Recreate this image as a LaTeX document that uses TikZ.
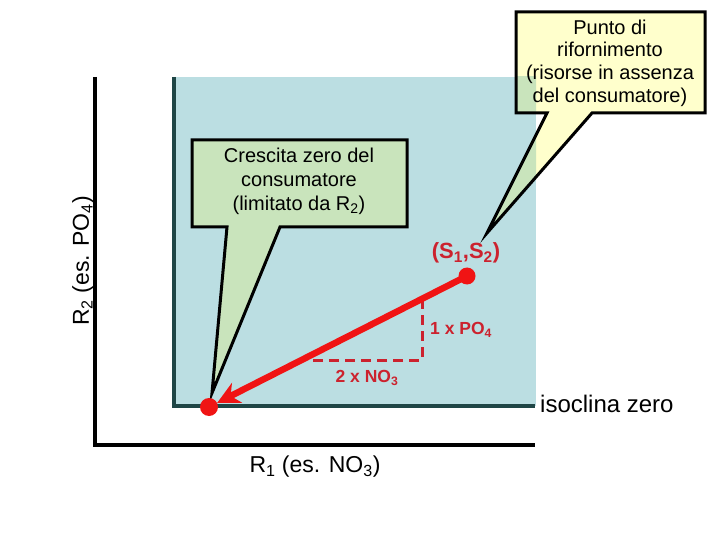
\documentclass[tikz,border=0pt]{standalone}
\usepackage{fontspec}
\setmainfont{Liberation Sans}
\usetikzlibrary{arrows.meta}
\definecolor{bgblue}{HTML}{BBDEE2}
\definecolor{isodark}{HTML}{1F4646}
\definecolor{callyel}{HTML}{FFFFCC}
\definecolor{callgrn}{HTML}{C9E4BC}
\definecolor{brightred}{HTML}{F01414}
\definecolor{labred}{HTML}{CC222E}
\tikzset{
  isoline/.style={isodark, line width=4bp, line cap=butt},
  axisline/.style={black, line width=4bp},
  callborder/.style={black, line width=3bp, line join=miter},
  greencall/.style={insert path={(192,140) -- (407,140) -- (407,227) -- (280,227) -- (212,393) -- (227,227) -- (192,227) -- cycle}},
  yellowcall/.style={insert path={(516,12) -- (705,12) -- (705,113) -- (592,113) -- (487,233) -- (547,113) -- (516,113) -- cycle}},
  calltext/.style={align=center, inner sep=0pt, font=\fontsize{20bp}{24bp}\selectfont},
  axislabel/.style={inner sep=0pt, font=\fontsize{23bp}{26bp}\selectfont},
  redlab/.style={inner sep=0pt, text=labred, font=\bfseries\fontsize{17.5bp}{20bp}\selectfont},
  reddot/.style={circle, fill=brightred, inner sep=0pt, minimum size=#1},
  dashline/.style={labred, line width=3bp, dash pattern=on 10bp off 6bp},
}
\begin{document}
\begin{tikzpicture}[x=1bp,y=-1bp]
\useasboundingbox (0,0) rectangle (720,540);
% blue region
\fill[bgblue] (174,77) rectangle (536,406);
% isocline
\coordinate (isoTop) at (174,77);
\coordinate (isoCorner) at (174,406);
\coordinate (isoEnd) at (535,406);
\draw[isoline] (isoTop) -- (isoCorner) -- (isoEnd);
% axes
\coordinate (axTop) at (95,77);
\coordinate (axOrigin) at (95,445);
\coordinate (axRight) at (535,445);
\draw[axisline] (axTop) -- (axOrigin) -- (axRight);
% callouts
\fill[callyel, greencall];
\fill[callyel, yellowcall];
\begin{scope}
  \clip (174,77) rectangle (536,406);
  \fill[callgrn, greencall];
  \fill[callgrn, yellowcall];
\end{scope}
\draw[callborder, greencall];
\draw[callborder, yellowcall];
\node[calltext] (gtext) at (299,181) {Crescita zero del\\consumatore\\(limitato da R\textsubscript{2})};
\node[calltext, font=\fontsize{20bp}{22.7bp}\selectfont] (ytext) at (610,63) {Punto di\\rifornimento\\(risorse in assenza\\del consumatore)};
% axis labels
\node[axislabel] (r1) at (315,467) {R\textsubscript{1} (es. NO\textsubscript{3})};
\node[axislabel, rotate=90] (r2) at (83,261) {R\textsubscript{2} (es. PO\textsubscript{4})};
\node[axislabel, anchor=west, font=\fontsize{24bp}{26bp}\selectfont] (iso) at (540,404) {isoclina zero};
% red elements
\coordinate (dashTop) at (422,299);
\coordinate (dashCorner) at (422,360);
\coordinate (dashLeft) at (308,360);
\draw[dashline] (dashTop) -- (dashCorner) -- (dashLeft);
\node[reddot=17bp] (S) at (467,276) {};
\node[reddot=18bp] (E) at (209,407) {};
\draw[brightred, line width=6.5bp, -{Stealth[length=22bp,width=22bp,inset=7bp]}] (S.center) -- (E);
\node[redlab, font=\bfseries\fontsize{22bp}{24bp}\selectfont] (slab) at (466,253) {(S\textsubscript{1},S\textsubscript{2})};
\node[redlab, anchor=west] (po) at (430,330) {1 x PO\textsubscript{4}};
\node[redlab] (no) at (367,378) {2 x NO\textsubscript{3}};
\end{tikzpicture}
\end{document}
